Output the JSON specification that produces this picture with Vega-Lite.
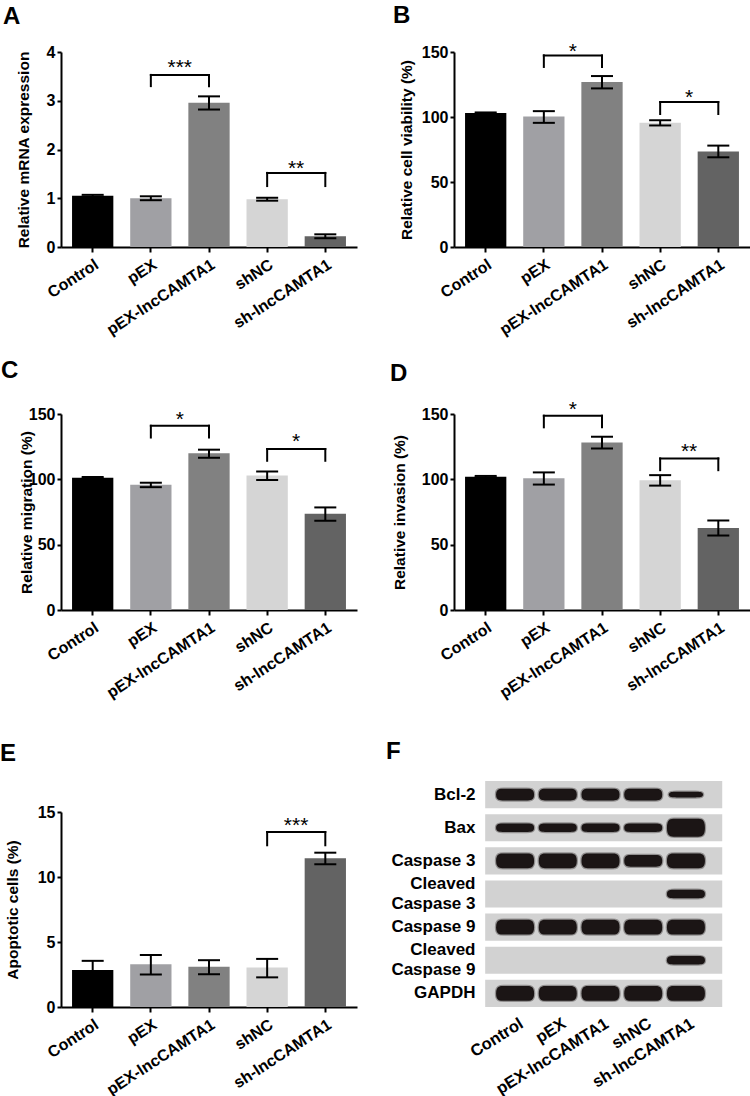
{
  "$schema": "https://vega.github.io/schema/vega-lite/v6.json",
  "padding": {"left": 0, "top": 4, "right": 0, "bottom": 0},
  "background": "white",
  "columns": 2,
  "bounds": "flush",
  "spacing": {"row": 167, "column": 97},
  "datasets": {
    "a_bars": [
      {"group": "Control", "value": 1.05, "lo": 1.03, "hi": 1.07},
      {"group": "pEX", "value": 1.0, "lo": 0.96, "hi": 1.04},
      {"group": "pEX-lncCAMTA1", "value": 2.96, "lo": 2.82, "hi": 3.09},
      {"group": "shNC", "value": 0.98, "lo": 0.95, "hi": 1.01},
      {"group": "sh-lncCAMTA1", "value": 0.22, "lo": 0.18, "hi": 0.26}
    ],
    "a_sig": [
      {"g1": "pEX", "g2": "pEX-lncCAMTA1", "top": 3.53, "low": 3.3, "star": 3.79, "label": "***"},
      {"g1": "shNC", "g2": "sh-lncCAMTA1", "top": 1.52, "low": 1.25, "star": 1.72, "label": "**"}
    ],
    "b_bars": [
      {"group": "Control", "value": 103, "lo": 102.5, "hi": 103.5},
      {"group": "pEX", "value": 100.3, "lo": 95.5, "hi": 104.5},
      {"group": "pEX-lncCAMTA1", "value": 127, "lo": 122, "hi": 131.5},
      {"group": "shNC", "value": 95.5, "lo": 93.5, "hi": 97.5},
      {"group": "sh-lncCAMTA1", "value": 73.5, "lo": 69, "hi": 78}
    ],
    "b_sig": [
      {"g1": "pEX", "g2": "pEX-lncCAMTA1", "top": 147.4, "low": 138.5, "star": 154.6, "label": "*"},
      {"g1": "shNC", "g2": "sh-lncCAMTA1", "top": 111.5, "low": 102.3, "star": 118.9, "label": "*"}
    ],
    "c_bars": [
      {"group": "Control", "value": 101.2, "lo": 100.6, "hi": 101.8},
      {"group": "pEX", "value": 95.8, "lo": 94, "hi": 97.4},
      {"group": "pEX-lncCAMTA1", "value": 120, "lo": 116.5, "hi": 122.7},
      {"group": "shNC", "value": 103, "lo": 99.5, "hi": 106},
      {"group": "sh-lncCAMTA1", "value": 73.6, "lo": 68.3, "hi": 78.5}
    ],
    "c_sig": [
      {"g1": "pEX", "g2": "pEX-lncCAMTA1", "top": 141, "low": 132, "star": 150, "label": "*"},
      {"g1": "shNC", "g2": "sh-lncCAMTA1", "top": 123.2, "low": 114.2, "star": 133.4, "label": "*"}
    ],
    "d_bars": [
      {"group": "Control", "value": 102, "lo": 101.4, "hi": 102.6},
      {"group": "pEX", "value": 100.8, "lo": 96, "hi": 105.3},
      {"group": "pEX-lncCAMTA1", "value": 128.2, "lo": 123.6, "hi": 132.6},
      {"group": "shNC", "value": 99.3, "lo": 95.2, "hi": 103.2},
      {"group": "sh-lncCAMTA1", "value": 62.8, "lo": 57, "hi": 68.5}
    ],
    "d_sig": [
      {"g1": "pEX", "g2": "pEX-lncCAMTA1", "top": 148.7, "low": 139.8, "star": 157.7, "label": "*"},
      {"g1": "shNC", "g2": "sh-lncCAMTA1", "top": 116, "low": 107, "star": 125.7, "label": "**"}
    ],
    "e_bars": [
      {"group": "Control", "value": 2.85, "lo": 2.15, "hi": 3.55},
      {"group": "pEX", "value": 3.28, "lo": 2.5, "hi": 4.0},
      {"group": "pEX-lncCAMTA1", "value": 3.1, "lo": 2.52, "hi": 3.6},
      {"group": "shNC", "value": 3.03, "lo": 2.28, "hi": 3.7},
      {"group": "sh-lncCAMTA1", "value": 11.44, "lo": 10.98, "hi": 11.87}
    ],
    "e_sig": [
      {"g1": "shNC", "g2": "sh-lncCAMTA1", "top": 13.46, "low": 12.44, "star": 14.36, "label": "***"}
    ],
    "f_rows": [
      {"protein": "Bcl-2"}, {"protein": "Bax"}, {"protein": "Caspase 3"}, {"protein": "Cleaved Caspase 3"},
      {"protein": "Caspase 9"}, {"protein": "Cleaved Caspase 9"}, {"protein": "GAPDH"}
    ],
    "f_bands": [
      {"protein": "Bcl-2", "lane": 1, "form": "m"},
      {"protein": "Bcl-2", "lane": 2, "form": "m"},
      {"protein": "Bcl-2", "lane": 3, "form": "m"},
      {"protein": "Bcl-2", "lane": 4, "form": "m"},
      {"protein": "Bcl-2", "lane": 5, "form": "xs"},
      {"protein": "Bax", "lane": 1, "form": "s"},
      {"protein": "Bax", "lane": 2, "form": "s"},
      {"protein": "Bax", "lane": 3, "form": "s"},
      {"protein": "Bax", "lane": 4, "form": "s"},
      {"protein": "Bax", "lane": 5, "form": "xl"},
      {"protein": "Caspase 3", "lane": 1, "form": "l"},
      {"protein": "Caspase 3", "lane": 2, "form": "l"},
      {"protein": "Caspase 3", "lane": 3, "form": "l"},
      {"protein": "Caspase 3", "lane": 4, "form": "m"},
      {"protein": "Caspase 3", "lane": 5, "form": "l"},
      {"protein": "Cleaved Caspase 3", "lane": 5, "form": "s"},
      {"protein": "Caspase 9", "lane": 1, "form": "l"},
      {"protein": "Caspase 9", "lane": 2, "form": "l"},
      {"protein": "Caspase 9", "lane": 3, "form": "l"},
      {"protein": "Caspase 9", "lane": 4, "form": "l"},
      {"protein": "Caspase 9", "lane": 5, "form": "l"},
      {"protein": "Cleaved Caspase 9", "lane": 5, "form": "s"},
      {"protein": "GAPDH", "lane": 1, "form": "l"},
      {"protein": "GAPDH", "lane": 2, "form": "l"},
      {"protein": "GAPDH", "lane": 3, "form": "l"},
      {"protein": "GAPDH", "lane": 4, "form": "l"},
      {"protein": "GAPDH", "lane": 5, "form": "l"}
    ]
  },
  "concat": [
    {
      "width": 296, "height": 195,
      "title": {"text": "A", "dx": -58, "offset": 15},
      "layer": [
        {"data": {"name": "a_bars"}, "mark": {"type": "bar"},
         "encoding": {
           "x": {"field": "group", "type": "nominal", "scale": {"domain": ["Control", "pEX", "pEX-lncCAMTA1", "shNC", "sh-lncCAMTA1"], "paddingInner": 0.29, "paddingOuter": 0.19}, "axis": {"title": null}},
           "y": {"field": "value", "type": "quantitative", "scale": {"domain": [0, 4], "nice": false}, "axis": {"values": [0, 1, 2, 3, 4], "title": "Relative mRNA expression", "titleX": -38, "titleBaseline": "middle"}},
           "color": {"field": "group", "type": "nominal", "scale": {"domain": ["Control", "pEX", "pEX-lncCAMTA1", "shNC", "sh-lncCAMTA1"], "range": ["#000000", "#a0a0a4", "#818181", "#d5d5d5", "#636363"]}, "legend": null}
         }},
        {"data": {"name": "a_bars"}, "mark": {"type": "rule", "color": "#000", "strokeWidth": 2},
         "encoding": {"x": {"field": "group", "type": "nominal"}, "y": {"field": "lo", "type": "quantitative"}, "y2": {"field": "hi"}}},
        {"data": {"name": "a_bars"}, "mark": {"type": "tick", "color": "#000", "size": 22, "thickness": 2, "opacity": 1},
         "encoding": {"x": {"field": "group", "type": "nominal"}, "y": {"field": "lo", "type": "quantitative"}}},
        {"data": {"name": "a_bars"}, "mark": {"type": "tick", "color": "#000", "size": 22, "thickness": 2, "opacity": 1},
         "encoding": {"x": {"field": "group", "type": "nominal"}, "y": {"field": "hi", "type": "quantitative"}}},
        {"data": {"name": "a_sig"}, "mark": {"type": "rule", "color": "#000", "strokeWidth": 2, "strokeCap": "square"},
         "encoding": {"x": {"field": "g1", "type": "nominal"}, "x2": {"field": "g2"}, "y": {"field": "top", "type": "quantitative"}}},
        {"data": {"name": "a_sig"}, "mark": {"type": "rule", "color": "#000", "strokeWidth": 2, "strokeCap": "square"},
         "encoding": {"x": {"field": "g1", "type": "nominal"}, "y": {"field": "low", "type": "quantitative"}, "y2": {"field": "top"}}},
        {"data": {"name": "a_sig"}, "mark": {"type": "rule", "color": "#000", "strokeWidth": 2, "strokeCap": "square"},
         "encoding": {"x": {"field": "g2", "type": "nominal"}, "y": {"field": "low", "type": "quantitative"}, "y2": {"field": "top"}}},
        {"data": {"name": "a_sig"}, "mark": {"type": "text", "fontSize": 21, "dy": 12, "baseline": "alphabetic", "align": "center", "color": "#000"},
         "encoding": {"x": {"field": "g1", "type": "nominal", "bandPosition": 1.2}, "y": {"field": "star", "type": "quantitative"}, "text": {"field": "label"}}}
      ]
    },
    {
      "width": 296, "height": 195,
      "title": {"text": "B", "dx": -61, "offset": 13},
      "layer": [
        {"data": {"name": "b_bars"}, "mark": {"type": "bar"},
         "encoding": {
           "x": {"field": "group", "type": "nominal", "scale": {"domain": ["Control", "pEX", "pEX-lncCAMTA1", "shNC", "sh-lncCAMTA1"], "paddingInner": 0.29, "paddingOuter": 0.19}, "axis": {"title": null}},
           "y": {"field": "value", "type": "quantitative", "scale": {"domain": [0, 150], "nice": false}, "axis": {"values": [0, 50, 100, 150], "title": "Relative cell viability (%)", "titleX": -48, "titleBaseline": "middle"}},
           "color": {"field": "group", "type": "nominal", "scale": {"domain": ["Control", "pEX", "pEX-lncCAMTA1", "shNC", "sh-lncCAMTA1"], "range": ["#000000", "#a0a0a4", "#818181", "#d5d5d5", "#636363"]}, "legend": null}
         }},
        {"data": {"name": "b_bars"}, "mark": {"type": "rule", "color": "#000", "strokeWidth": 2},
         "encoding": {"x": {"field": "group", "type": "nominal"}, "y": {"field": "lo", "type": "quantitative"}, "y2": {"field": "hi"}}},
        {"data": {"name": "b_bars"}, "mark": {"type": "tick", "color": "#000", "size": 22, "thickness": 2, "opacity": 1},
         "encoding": {"x": {"field": "group", "type": "nominal"}, "y": {"field": "lo", "type": "quantitative"}}},
        {"data": {"name": "b_bars"}, "mark": {"type": "tick", "color": "#000", "size": 22, "thickness": 2, "opacity": 1},
         "encoding": {"x": {"field": "group", "type": "nominal"}, "y": {"field": "hi", "type": "quantitative"}}},
        {"data": {"name": "b_sig"}, "mark": {"type": "rule", "color": "#000", "strokeWidth": 2, "strokeCap": "square"},
         "encoding": {"x": {"field": "g1", "type": "nominal"}, "x2": {"field": "g2"}, "y": {"field": "top", "type": "quantitative"}}},
        {"data": {"name": "b_sig"}, "mark": {"type": "rule", "color": "#000", "strokeWidth": 2, "strokeCap": "square"},
         "encoding": {"x": {"field": "g1", "type": "nominal"}, "y": {"field": "low", "type": "quantitative"}, "y2": {"field": "top"}}},
        {"data": {"name": "b_sig"}, "mark": {"type": "rule", "color": "#000", "strokeWidth": 2, "strokeCap": "square"},
         "encoding": {"x": {"field": "g2", "type": "nominal"}, "y": {"field": "low", "type": "quantitative"}, "y2": {"field": "top"}}},
        {"data": {"name": "b_sig"}, "mark": {"type": "text", "fontSize": 21, "dy": 12, "baseline": "alphabetic", "align": "center", "color": "#000"},
         "encoding": {"x": {"field": "g1", "type": "nominal", "bandPosition": 1.2}, "y": {"field": "star", "type": "quantitative"}, "text": {"field": "label"}}}
      ]
    },
    {
      "width": 296, "height": 196,
      "title": {"text": "C", "dx": -60, "offset": 23},
      "layer": [
        {"data": {"name": "c_bars"}, "mark": {"type": "bar"},
         "encoding": {
           "x": {"field": "group", "type": "nominal", "scale": {"domain": ["Control", "pEX", "pEX-lncCAMTA1", "shNC", "sh-lncCAMTA1"], "paddingInner": 0.29, "paddingOuter": 0.19}, "axis": {"title": null}},
           "y": {"field": "value", "type": "quantitative", "scale": {"domain": [0, 150], "nice": false}, "axis": {"values": [0, 50, 100, 150], "title": "Relative migration (%)", "titleX": -35, "titleBaseline": "middle"}},
           "color": {"field": "group", "type": "nominal", "scale": {"domain": ["Control", "pEX", "pEX-lncCAMTA1", "shNC", "sh-lncCAMTA1"], "range": ["#000000", "#a0a0a4", "#818181", "#d5d5d5", "#636363"]}, "legend": null}
         }},
        {"data": {"name": "c_bars"}, "mark": {"type": "rule", "color": "#000", "strokeWidth": 2},
         "encoding": {"x": {"field": "group", "type": "nominal"}, "y": {"field": "lo", "type": "quantitative"}, "y2": {"field": "hi"}}},
        {"data": {"name": "c_bars"}, "mark": {"type": "tick", "color": "#000", "size": 22, "thickness": 2, "opacity": 1},
         "encoding": {"x": {"field": "group", "type": "nominal"}, "y": {"field": "lo", "type": "quantitative"}}},
        {"data": {"name": "c_bars"}, "mark": {"type": "tick", "color": "#000", "size": 22, "thickness": 2, "opacity": 1},
         "encoding": {"x": {"field": "group", "type": "nominal"}, "y": {"field": "hi", "type": "quantitative"}}},
        {"data": {"name": "c_sig"}, "mark": {"type": "rule", "color": "#000", "strokeWidth": 2, "strokeCap": "square"},
         "encoding": {"x": {"field": "g1", "type": "nominal"}, "x2": {"field": "g2"}, "y": {"field": "top", "type": "quantitative"}}},
        {"data": {"name": "c_sig"}, "mark": {"type": "rule", "color": "#000", "strokeWidth": 2, "strokeCap": "square"},
         "encoding": {"x": {"field": "g1", "type": "nominal"}, "y": {"field": "low", "type": "quantitative"}, "y2": {"field": "top"}}},
        {"data": {"name": "c_sig"}, "mark": {"type": "rule", "color": "#000", "strokeWidth": 2, "strokeCap": "square"},
         "encoding": {"x": {"field": "g2", "type": "nominal"}, "y": {"field": "low", "type": "quantitative"}, "y2": {"field": "top"}}},
        {"data": {"name": "c_sig"}, "mark": {"type": "text", "fontSize": 21, "dy": 12, "baseline": "alphabetic", "align": "center", "color": "#000"},
         "encoding": {"x": {"field": "g1", "type": "nominal", "bandPosition": 1.2}, "y": {"field": "star", "type": "quantitative"}, "text": {"field": "label"}}}
      ]
    },
    {
      "width": 296, "height": 196,
      "title": {"text": "D", "dx": -64, "offset": 13},
      "layer": [
        {"data": {"name": "d_bars"}, "mark": {"type": "bar"},
         "encoding": {
           "x": {"field": "group", "type": "nominal", "scale": {"domain": ["Control", "pEX", "pEX-lncCAMTA1", "shNC", "sh-lncCAMTA1"], "paddingInner": 0.29, "paddingOuter": 0.19}, "axis": {"title": null}},
           "y": {"field": "value", "type": "quantitative", "scale": {"domain": [0, 150], "nice": false}, "axis": {"values": [0, 50, 100, 150], "title": "Relative invasion (%)", "titleX": -55, "titleBaseline": "middle"}},
           "color": {"field": "group", "type": "nominal", "scale": {"domain": ["Control", "pEX", "pEX-lncCAMTA1", "shNC", "sh-lncCAMTA1"], "range": ["#000000", "#a0a0a4", "#818181", "#d5d5d5", "#636363"]}, "legend": null}
         }},
        {"data": {"name": "d_bars"}, "mark": {"type": "rule", "color": "#000", "strokeWidth": 2},
         "encoding": {"x": {"field": "group", "type": "nominal"}, "y": {"field": "lo", "type": "quantitative"}, "y2": {"field": "hi"}}},
        {"data": {"name": "d_bars"}, "mark": {"type": "tick", "color": "#000", "size": 22, "thickness": 2, "opacity": 1},
         "encoding": {"x": {"field": "group", "type": "nominal"}, "y": {"field": "lo", "type": "quantitative"}}},
        {"data": {"name": "d_bars"}, "mark": {"type": "tick", "color": "#000", "size": 22, "thickness": 2, "opacity": 1},
         "encoding": {"x": {"field": "group", "type": "nominal"}, "y": {"field": "hi", "type": "quantitative"}}},
        {"data": {"name": "d_sig"}, "mark": {"type": "rule", "color": "#000", "strokeWidth": 2, "strokeCap": "square"},
         "encoding": {"x": {"field": "g1", "type": "nominal"}, "x2": {"field": "g2"}, "y": {"field": "top", "type": "quantitative"}}},
        {"data": {"name": "d_sig"}, "mark": {"type": "rule", "color": "#000", "strokeWidth": 2, "strokeCap": "square"},
         "encoding": {"x": {"field": "g1", "type": "nominal"}, "y": {"field": "low", "type": "quantitative"}, "y2": {"field": "top"}}},
        {"data": {"name": "d_sig"}, "mark": {"type": "rule", "color": "#000", "strokeWidth": 2, "strokeCap": "square"},
         "encoding": {"x": {"field": "g2", "type": "nominal"}, "y": {"field": "low", "type": "quantitative"}, "y2": {"field": "top"}}},
        {"data": {"name": "d_sig"}, "mark": {"type": "text", "fontSize": 21, "dy": 12, "baseline": "alphabetic", "align": "center", "color": "#000"},
         "encoding": {"x": {"field": "g1", "type": "nominal", "bandPosition": 1.2}, "y": {"field": "star", "type": "quantitative"}, "text": {"field": "label"}}}
      ]
    },
    {
      "width": 296, "height": 230,
      "title": {"text": "E", "dx": -61, "offset": 11},
      "layer": [
        {"data": {"name": "e_bars"}, "mark": {"type": "bar"},
         "encoding": {
           "x": {"field": "group", "type": "nominal", "scale": {"domain": ["Control", "pEX", "pEX-lncCAMTA1", "shNC", "sh-lncCAMTA1"], "paddingInner": 0.29, "paddingOuter": 0.19}, "axis": {"title": null}},
           "y": {"field": "value", "type": "quantitative", "scale": {"domain": [0, 15], "nice": false, "range": [230, 35]}, "axis": {"values": [0, 5, 10, 15], "title": "Apoptotic cells (%)", "titleX": -49, "titleBaseline": "middle"}},
           "color": {"field": "group", "type": "nominal", "scale": {"domain": ["Control", "pEX", "pEX-lncCAMTA1", "shNC", "sh-lncCAMTA1"], "range": ["#000000", "#a0a0a4", "#818181", "#d5d5d5", "#636363"]}, "legend": null}
         }},
        {"data": {"name": "e_bars"}, "mark": {"type": "rule", "color": "#000", "strokeWidth": 2},
         "encoding": {"x": {"field": "group", "type": "nominal"}, "y": {"field": "lo", "type": "quantitative"}, "y2": {"field": "hi"}}},
        {"data": {"name": "e_bars"}, "mark": {"type": "tick", "color": "#000", "size": 22, "thickness": 2, "opacity": 1},
         "encoding": {"x": {"field": "group", "type": "nominal"}, "y": {"field": "lo", "type": "quantitative"}}},
        {"data": {"name": "e_bars"}, "mark": {"type": "tick", "color": "#000", "size": 22, "thickness": 2, "opacity": 1},
         "encoding": {"x": {"field": "group", "type": "nominal"}, "y": {"field": "hi", "type": "quantitative"}}},
        {"data": {"name": "e_sig"}, "mark": {"type": "rule", "color": "#000", "strokeWidth": 2, "strokeCap": "square"},
         "encoding": {"x": {"field": "g1", "type": "nominal"}, "x2": {"field": "g2"}, "y": {"field": "top", "type": "quantitative"}}},
        {"data": {"name": "e_sig"}, "mark": {"type": "rule", "color": "#000", "strokeWidth": 2, "strokeCap": "square"},
         "encoding": {"x": {"field": "g1", "type": "nominal"}, "y": {"field": "low", "type": "quantitative"}, "y2": {"field": "top"}}},
        {"data": {"name": "e_sig"}, "mark": {"type": "rule", "color": "#000", "strokeWidth": 2, "strokeCap": "square"},
         "encoding": {"x": {"field": "g2", "type": "nominal"}, "y": {"field": "low", "type": "quantitative"}, "y2": {"field": "top"}}},
        {"data": {"name": "e_sig"}, "mark": {"type": "text", "fontSize": 21, "dy": 12, "baseline": "alphabetic", "align": "center", "color": "#000"},
         "encoding": {"x": {"field": "g1", "type": "nominal", "bandPosition": 1.2}, "y": {"field": "star", "type": "quantitative"}, "text": {"field": "label"}}}
      ]
    },
    {
      "width": 296, "height": 230,
      "title": {"text": "F", "dx": -68, "offset": 13},
      "layer": [
        {"data": {"name": "f_rows"}, "mark": {"type": "rect", "color": "#d2d2d2"},
         "encoding": {
           "y": {"field": "protein", "type": "nominal", "scale": {"domain": ["Bcl-2", "Bax", "Caspase 3", "Cleaved Caspase 3", "Caspase 9", "Cleaved Caspase 9", "GAPDH"], "range": [4, 230], "paddingInner": 0.18, "paddingOuter": 0},
                 "axis": {"title": null, "domain": false, "ticks": false, "offset": -24, "labelPadding": 3, "labelFontSize": 17, "labelLineHeight": 20, "labelBaseline": "middle",
                          "labelOffset": {"condition": {"test": "indexof(datum.value, 'Cleaved') == 0", "value": -10}, "value": 0},
                          "labelExpr": "indexof(datum.value, 'Cleaved ') == 0 ? ['Cleaved', substring(datum.value, 8)] : datum.value"}},
           "x": {"datum": 0.3},
           "x2": {"datum": 5.85}
         }},
        {"data": {"name": "f_bands"}, "mark": {"type": "point", "filled": true, "size": 1444, "color": "#1b1515", "opacity": 1, "stroke": "#1b1515", "strokeOpacity": 0.35, "strokeWidth": 2.5},
         "encoding": {
           "x": {"field": "lane", "type": "quantitative", "scale": {"domain": [-0.43, 6.5], "nice": false, "zero": false},
                 "axis": {"values": [1, 2, 3, 4, 5], "title": null, "domain": false, "ticks": false, "grid": false, "labelOverlap": false, "labelFlush": false, "labelPadding": 8, "labelOffset": 2, "labelFontSize": 16.5, "labelAngle": -32,
                          "labelExpr": "['Control', 'pEX', 'pEX-lncCAMTA1', 'shNC', 'sh-lncCAMTA1'][datum.value - 1]"}},
           "y": {"field": "protein", "type": "nominal"},
           "shape": {"field": "form", "type": "nominal", "legend": null,
                     "scale": {"domain": ["xs", "s", "m", "l", "xl"],
                               "range": [
                                 "M-0.9,0C-0.9,-0.15,-0.7,-0.15,-0.5,-0.15L0.5,-0.15C0.7,-0.15,0.9,-0.15,0.9,0C0.9,0.15,0.7,0.15,0.5,0.15L-0.5,0.15C-0.7,0.15,-0.9,0.15,-0.9,0Z",
                                 "M-1,0C-1,-0.22,-0.8,-0.22,-0.6,-0.22L0.6,-0.22C0.8,-0.22,1,-0.22,1,0C1,0.22,0.8,0.22,0.6,0.22L-0.6,0.22C-0.8,0.22,-1,0.22,-1,0Z",
                                 "M-1,0C-1,-0.31,-0.8,-0.31,-0.6,-0.31L0.6,-0.31C0.8,-0.31,1,-0.31,1,0C1,0.31,0.8,0.31,0.6,0.31L-0.6,0.31C-0.8,0.31,-1,0.31,-1,0Z",
                                 "M-1,0C-1,-0.39,-0.8,-0.39,-0.6,-0.39L0.6,-0.39C0.8,-0.39,1,-0.39,1,0C1,0.39,0.8,0.39,0.6,0.39L-0.6,0.39C-0.8,0.39,-1,0.39,-1,0Z",
                                 "M-1,0C-1,-0.47,-0.8,-0.47,-0.6,-0.47L0.6,-0.47C0.8,-0.47,1,-0.47,1,0C1,0.47,0.8,0.47,0.6,0.47L-0.6,0.47C-0.8,0.47,-1,0.47,-1,0Z"
                               ]}}
         }}
      ]
    }
  ],
  "config": {
    "font": "Liberation Sans",
    "view": {"stroke": null},
    "axis": {"grid": false, "domainColor": "#000", "domainWidth": 2, "tickColor": "#000", "tickWidth": 2, "labelColor": "#000", "labelFontWeight": "bold", "labelFontSize": 16, "titleColor": "#000", "titleFontWeight": "bold", "titleFontSize": 15.5},
    "axisX": {"labelAngle": -33, "labelAlign": "right", "labelBaseline": "top", "tickSize": 5, "labelPadding": 4, "labelFontSize": 16},
    "axisY": {"tickSize": 4, "labelPadding": 2},
    "title": {"fontSize": 24, "fontWeight": "bold", "anchor": "start", "frame": "group", "color": "#000", "baseline": "alphabetic"}
  }
}
